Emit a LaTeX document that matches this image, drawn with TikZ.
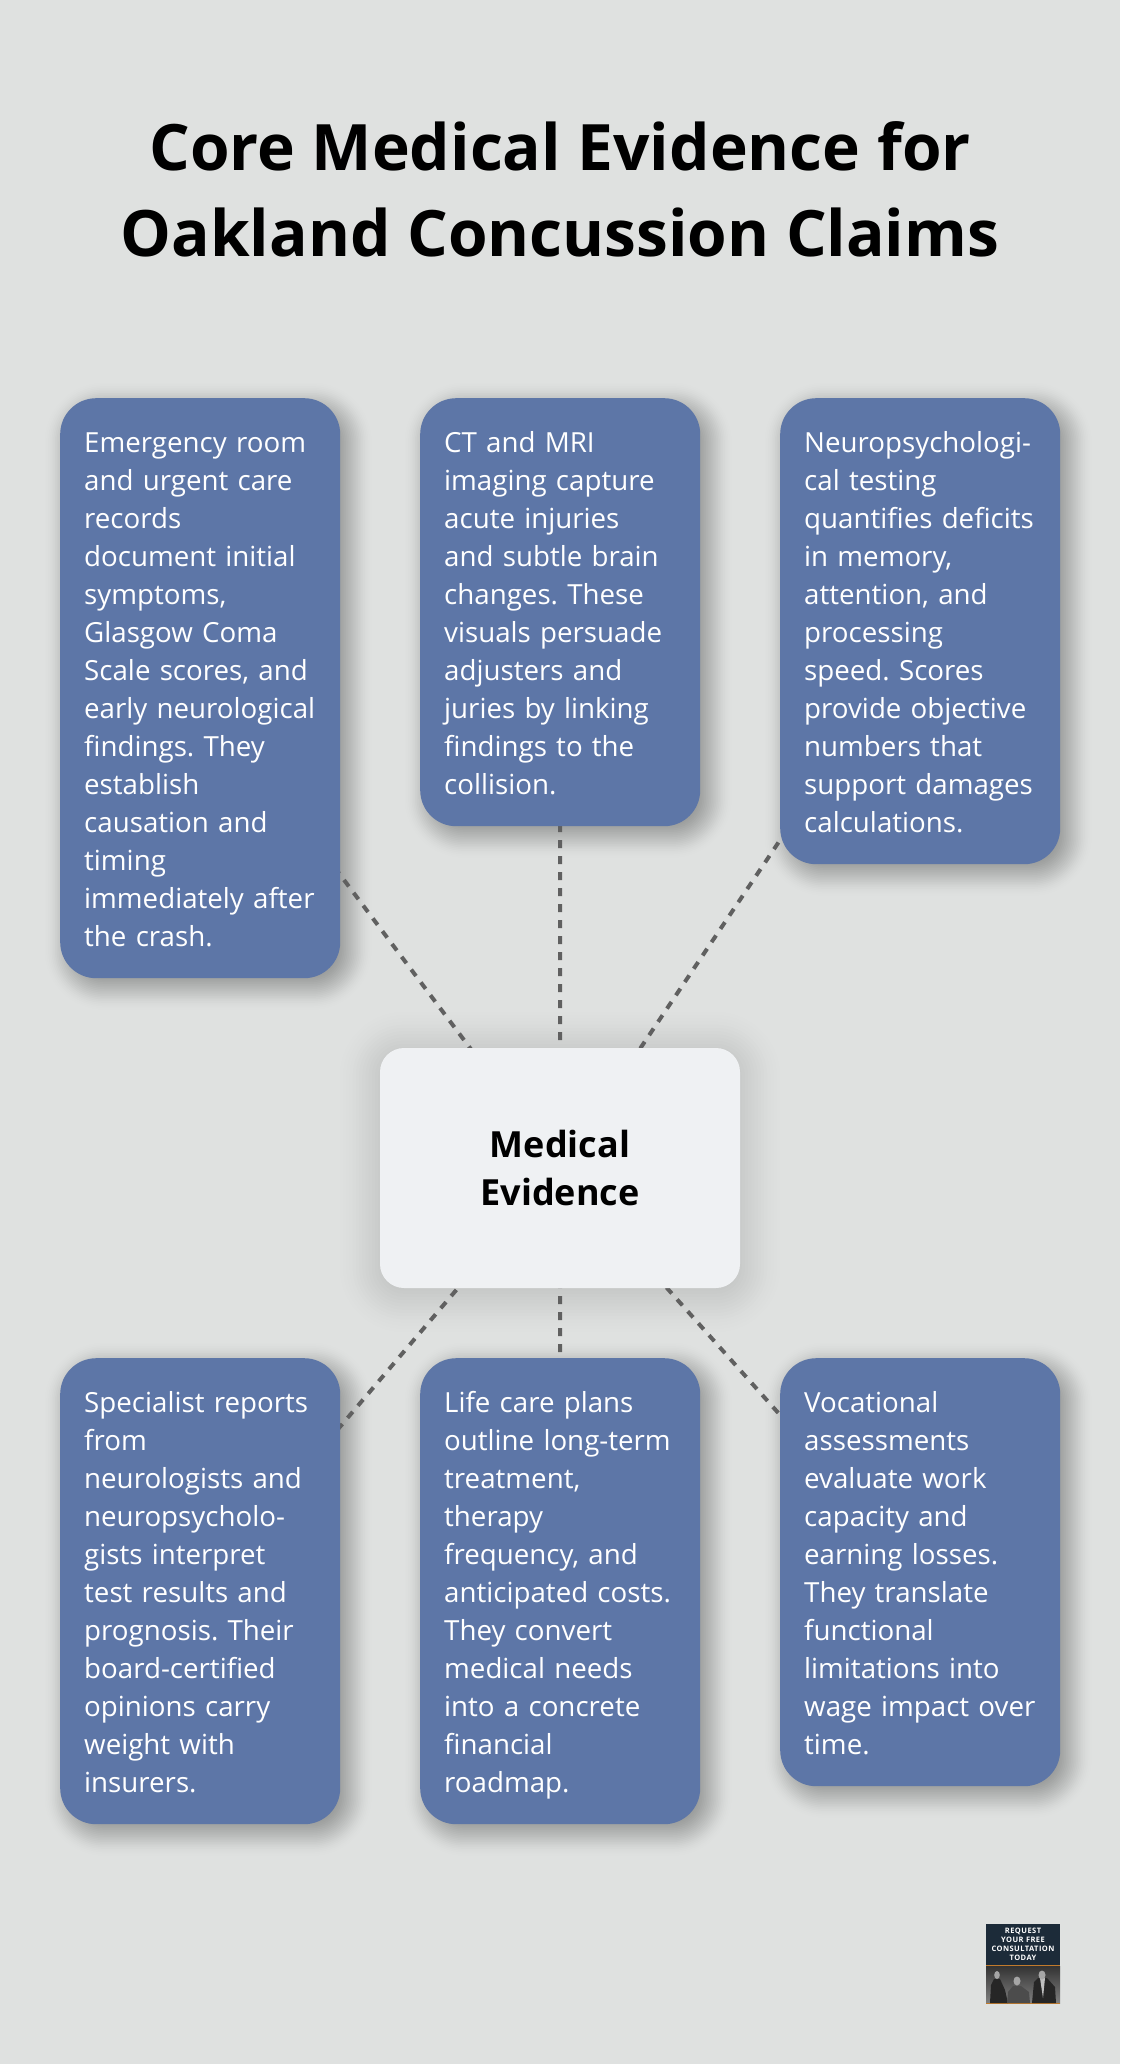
\documentclass[tikz,border=0pt]{standalone}
\usepackage{fontspec}
\setmainfont{Open Sans}
\newfontfamily\logofont[LetterSpace=6]{Open Sans}
\usetikzlibrary{calc}
\pgfdeclarelayer{back}\pgfdeclarelayer{lines}
\pgfsetlayers{back,lines,main}
\definecolor{pagebg}{HTML}{DFE1E0}
\definecolor{boxblue}{HTML}{5D76A7}
\definecolor{hubfill}{HTML}{EFF1F3}
\definecolor{linkgrey}{HTML}{606060}
\definecolor{logodark}{HTML}{1C2B39}
\definecolor{logoorange}{HTML}{C07A2C}
\newcommand{\cardstrut}{\rule{0pt}{34.6pt}}
\tikzset{
  x=1pt,y=-1pt,
  card/.style={anchor=north west,fill=boxblue,text=white,rounded corners=36pt,
    minimum width=280pt,text width=256pt,inner xsep=12pt,inner ysep=0pt,align=left,
    font=\fontsize{27.7}{38}\selectfont\frenchspacing,
    execute at begin node={\leftskip=12pt\relax\cardstrut},execute at end node=\strut},
  hub/.style={fill=hubfill,text=black,rounded corners=24pt,minimum width=360pt,minimum height=240pt,
    inner sep=0pt,align=center,font=\fontsize{36}{48}\selectfont\bfseries},
  link/.style={draw=linkgrey,line width=4pt,dash pattern=on 8pt off 8pt},
  titletext/.style={text=black,align=center,inner sep=0pt,font=\fontsize{64}{86}\selectfont\bfseries},
  logoline/.style={text=white,inner sep=0pt,font=\fontsize{7.5}{9}\selectfont\logofont\bfseries},
  person/.style={fill=black!85},
  face/.style={fill=black!35},
}
% soft shadow: node, dx, dy, blur reach, opacity per step, corner radius
\newcommand{\softshadow}[6]{%
  \foreach \sstep in {1,...,30}{%
    \pgfmathsetmacro{\su}{1-2*(\sstep-0.5)/30}%
    \pgfmathsetmacro{\sgrow}{#4*\su}%
    \pgfmathsetmacro{\sop}{#5*1.5*(1-\su*\su)}%
    \pgfmathsetmacro{\srad}{max(2,#6+\sgrow)}%
    \path[fill=black,fill opacity=\sop,rounded corners=\srad pt]
      ([shift={(#2-\sgrow,#3-\sgrow)}]#1.north west) rectangle ([shift={(#2+\sgrow,#3+\sgrow)}]#1.south east);
  }%
}
\begin{document}
\begin{tikzpicture}
\useasboundingbox (0,0) rectangle (1120,2064);

\node[titletext] (title) at (560,189.5) {Core Medical Evidence for\\Oakland Concussion Claims};

\node[card,minimum height=580pt] (er) at (60,398) {Emergency room\\and urgent care\\records\\document initial\\symptoms,\\Glasgow Coma\\Scale scores, and\\early neurological\\findings. They\\establish\\causation and\\timing\\immediately after\\the crash.};
\node[card,minimum height=428pt] (img) at (420,398) {CT and MRI\\imaging capture\\acute injuries\\and subtle brain\\changes. These\\visuals persuade\\adjusters and\\juries by linking\\findings to the\\collision.};
\node[card,minimum height=466pt] (neuro) at (780,398) {Neuropsychologi-\\cal testing\\quantifies deficits\\in memory,\\attention, and\\processing\\speed. Scores\\provide objective\\numbers that\\support damages\\calculations.};
\node[hub] (hub) at (560,1168) {Medical\\Evidence};
\node[card,minimum height=466pt] (spec) at (60,1358) {Specialist reports\\from\\neurologists and\\neuropsycholo-\\gists interpret\\test results and\\prognosis. Their\\board-certified\\opinions carry\\weight with\\insurers.};
\node[card,minimum height=466pt] (life) at (420,1358) {Life care plans\\outline long-term\\treatment,\\therapy\\frequency, and\\anticipated costs.\\They convert\\medical needs\\into a concrete\\financial\\roadmap.};
\node[card,minimum height=428pt] (voc) at (780,1358) {Vocational\\assessments\\evaluate work\\capacity and\\earning losses.\\They translate\\functional\\limitations into\\wage impact over\\time.};

\begin{pgfonlayer}{back}
  \fill[pagebg] (0,0) rectangle (1120,2064);
  \softshadow{hub}{0}{4}{48}{0.0065}{24}
  \foreach \c in {er,img,neuro,spec,life,voc}{\softshadow{\c}{8}{8}{26}{0.0125}{36}}
\end{pgfonlayer}

\begin{pgfonlayer}{lines}
  \foreach \c in {er,img,neuro,spec,life,voc}{\draw[link] (hub.center) -- (\c.center);}
\end{pgfonlayer}

% consultation badge
\node[fill=logodark,minimum width=74pt,minimum height=80pt,inner sep=0pt,anchor=north west] (badge) at (986,1924) {};
\node[logoline] (l1) at (1023,1931) {REQUEST};
\node[logoline] (l2) at (1023,1940) {YOUR FREE};
\node[logoline] (l3) at (1023,1949) {CONSULTATION};
\node[logoline] (l4) at (1023,1958) {TODAY};
\shade[top color=black!80,bottom color=black!50] (986,1966) rectangle (1060,2003);
\fill[logoorange] (986,1965) rectangle (1060,1966);
\fill[logoorange] (986,2003) rectangle (1060,2004);
\fill[person] (990,2003) -- (991,1985) -- (994,1979) -- (1000,1979) -- (1005,1990) -- (1008,2003) -- cycle;
\fill[face] (997,1975) ellipse (2.8 and 4);
\fill[black!70] (1007,2003) -- (1008,1992) -- (1013,1986) -- (1021,1986) -- (1029,1992) -- (1030,2003) -- cycle;
\fill[face] (1017,1981) ellipse (3.5 and 4.5);
\fill[person] (1032,2003) -- (1034,1982) -- (1038,1978) -- (1047,1978) -- (1055,1987) -- (1056,2003) -- cycle;
\fill[black!25] (1040,1978) -- (1045,1978) -- (1043,1998) -- cycle;
\fill[face] (1042,1975) ellipse (3.5 and 4.5);
\end{tikzpicture}
\end{document}
